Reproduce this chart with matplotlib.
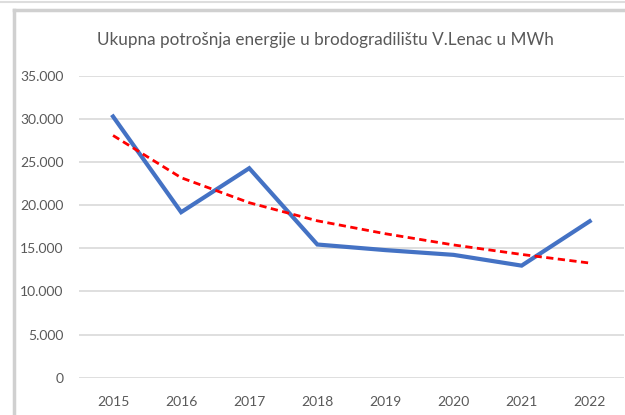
import matplotlib.pyplot as plt
from matplotlib.lines import Line2D
from matplotlib.ticker import FuncFormatter

years = ['2015', '2016', '2017', '2018', '2019', '2020', '2021', '2022']
potrosnja = [30300, 19200, 24300, 15450, 14800, 14250, 13000, 18150]
trend = [28100, 23200, 20300, 18200, 16700, 15400, 14300, 13300]
title = 'Ukupna potrošnja energije u brodogradilištu V.Lenac u MWh'

plt.rcParams['font.family'] = ['Lato', 'DejaVu Sans']

fig = plt.figure(figsize=(6.25, 4.15), dpi=100)
ax = fig.add_axes([0.1264, 0.0899, 0.8716, 0.727])

x = range(len(years))
ax.plot(x, potrosnja, color='#4472C4', lw=3.0, solid_joinstyle='miter')
ax.plot(x, trend, color='#FF0000', lw=2.0, ls=(0, (2.6, 1.6)))

ax.set_xlim(-0.5, len(years) - 0.5)
ax.set_ylim(0, 35000)
ax.set_yticks(range(0, 35001, 5000))
ax.yaxis.set_major_formatter(FuncFormatter(lambda v, p: '{:,.0f}'.format(v).replace(',', '.')))
ax.set_xticks(list(x))
ax.set_xticklabels(years)
ax.grid(axis='y', color='#D9D9D9', lw=1.2)
ax.set_axisbelow(True)
for s in ax.spines.values():
    s.set_visible(False)
ax.tick_params(length=0, colors='#595959', labelsize=10)
ax.tick_params(axis='y', pad=11)
ax.tick_params(axis='x', pad=13)

fig.text(0.521, 0.903, title, ha='center', va='center', fontsize=12.3, color='#595959')

# frame of the cropped chart
fig.add_artist(Line2D([14 / 625, 1], [1 - 10 / 415, 1 - 10 / 415], color='#D0D0D0', lw=2.5))
fig.add_artist(Line2D([14 / 625, 14 / 625], [0, 1 - 10 / 415], color='#D0D0D0', lw=2.5))
fig.add_artist(Line2D([0, 1], [1 - 2 / 415, 1 - 2 / 415], color='#DDDDDD', lw=1.5))

fig.savefig('out.png', dpi=100)
